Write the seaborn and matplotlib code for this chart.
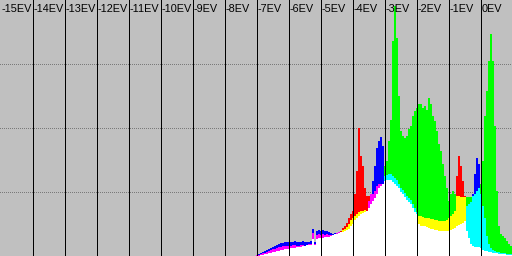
import numpy as np
import pandas as pd
import matplotlib
matplotlib.use("Agg")
import matplotlib.pyplot as plt
import seaborn as sns

# ---- data: per-bin channel heights (0..256 scale), bins of 1/16 EV from -7 EV to +1 EV
ev_start = -7.0
bin_width = 1.0 / 16.0
red = [1, 1, 2, 3, 3, 4, 5, 6, 7, 7, 8, 9, 9, 10, 10, 10, 10, 10, 11, 11,
       10, 10, 11, 11, 10, 11, 12, 12, 23, 12, 21, 22, 21, 22, 21, 22, 21, 21, 21, 22,
       23, 24, 25, 28, 30, 33, 38, 42, 45, 62, 85, 128, 100, 90, 68, 60, 60, 62, 62, 65,
       70, 72, 72, 72, 75, 76, 76, 76, 74, 72, 70, 68, 64, 62, 59, 56, 54, 52, 48, 44,
       42, 40, 40, 39, 38, 38, 38, 37, 37, 36, 36, 35, 35, 35, 35, 36, 38, 40, 42, 45,
       80, 100, 90, 75, 60, 25, 18, 12, 10, 9, 9, 9, 8, 6, 5, 5, 4, 4, 3, 3,
       3, 2, 2, 2, 2, 1, 1, 1]
green = [0, 0, 1, 1, 2, 2, 3, 3, 4, 4, 5, 5, 6, 6, 7, 7, 7, 8, 8, 8,
         9, 9, 9, 10, 10, 11, 11, 11, 17, 11, 17, 18, 18, 18, 19, 19, 19, 20, 21, 22,
         22, 23, 24, 26, 27, 29, 32, 36, 38, 40, 42, 44, 45, 45, 46, 45, 48, 52, 55, 58,
         62, 68, 70, 72, 90, 95, 115, 136, 215, 250, 218, 160, 125, 120, 118, 120, 127, 130, 140, 145,
         148, 152, 152, 148, 150, 146, 158, 152, 140, 135, 125, 112, 105, 92, 80, 68, 55, 62, 65, 62,
         60, 60, 59, 59, 59, 59, 59, 59, 60, 62, 65, 68, 72, 95, 140, 165, 195, 222, 195, 130,
         65, 30, 22, 20, 18, 15, 12, 10]
blue = [1, 2, 3, 4, 5, 6, 7, 8, 9, 10, 11, 12, 13, 13, 14, 14, 14, 14, 14, 15,
        14, 14, 14, 15, 14, 14, 14, 15, 27, 14, 25, 26, 25, 26, 25, 25, 24, 23, 22, 23,
        23, 24, 24, 24, 25, 26, 27, 30, 32, 36, 38, 40, 42, 43, 44, 45, 55, 62, 75, 90,
        108, 115, 119, 110, 80, 81, 82, 82, 80, 78, 76, 72, 68, 66, 63, 60, 58, 56, 52, 48,
        44, 32, 30, 30, 30, 29, 28, 27, 27, 26, 26, 25, 25, 25, 25, 25, 25, 26, 27, 28,
        30, 31, 32, 33, 35, 50, 52, 54, 62, 82, 98, 92, 62, 50, 38, 20, 12, 8, 6, 5,
        4, 4, 3, 3, 3, 2, 2, 2]
ev_ticks = list(range(-15, 1))
tick_labels = [f"{v}EV" for v in ev_ticks]

# ---- build additive-colour layers
n_bins = len(red)
ev_end = ev_start + n_bins * bin_width
centers = ev_start + (np.arange(n_bins) + 0.5) * bin_width
chan = np.array([red, green, blue], dtype=float)
basis = np.eye(3)


def mix(mask):
    c = (basis[mask].sum(axis=0) > 0).astype(int)
    return "#{:02x}{:02x}{:02x}".format(*(c * 255))


rows = []
for i in range(n_bins):
    vals = chan[:, i]
    s = np.sort(vals)[::-1]  # max, mid, min
    for layer, v in enumerate(s):
        if v <= 0:
            continue
        rows.append({"ev": centers[i], "h": v, "layer": layer, "col": mix(vals >= v)})
df = pd.DataFrame(rows)
palette = {c: c for c in df["col"].unique()}

sns.set_theme(style="white")
fig = plt.figure(figsize=(5.12, 2.56), dpi=100)
ax = fig.add_axes([0, 0, 1, 1])
ax.set_facecolor("#c0c0c0")
fig.patch.set_facecolor("#c0c0c0")

for gy in (64.5, 128.5, 192.5):
    ax.axhline(gy, color="#7a7a7a", lw=0.72, linestyle=(0, (1, 1.6)),
               antialiased=False, zorder=1)

for layer in range(3):
    sub = df[df["layer"] == layer]
    sns.histplot(data=sub, x="ev", weights="h", hue="col", palette=palette,
                 bins=n_bins, binrange=(ev_start, ev_end), multiple="layer",
                 alpha=1, linewidth=0, legend=False, ax=ax,
                 antialiased=False, zorder=2)

for v in ev_ticks[1:]:
    ax.axvline(v + 0.5 / 32, color="black", lw=0.72, antialiased=False, zorder=5)

for v, lab in zip(ev_ticks, tick_labels):
    ax.text(v + 1.5 / 32, 243.5, lab, fontsize=7.8, family="Liberation Sans",
            color="black", va="baseline", ha="left", zorder=6)

ax.set_xlim(-15, 1)
ax.set_ylim(0, 256)
ax.set_xlabel("")
ax.set_ylabel("")
ax.set_xticks([])
ax.set_yticks([])
for sp in ax.spines.values():
    sp.set_visible(False)

fig.savefig("out.png", dpi=100, facecolor="#c0c0c0")
